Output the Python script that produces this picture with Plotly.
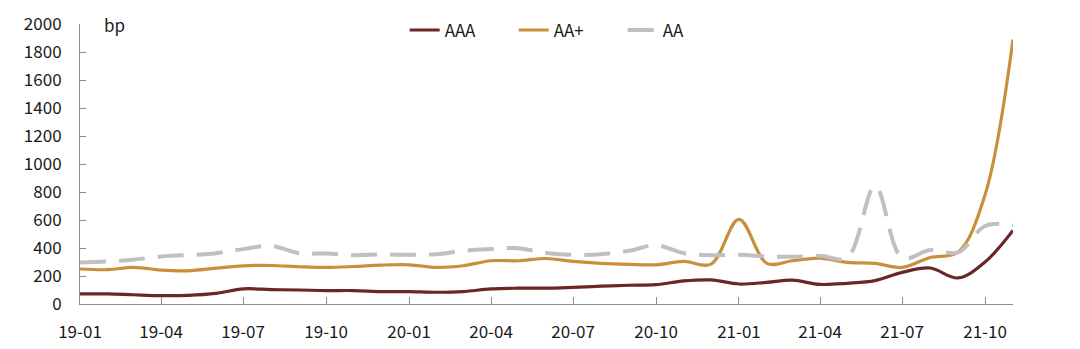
import plotly.graph_objects as go

months = [
    "2019-01-01", "2019-02-01", "2019-03-01", "2019-04-01", "2019-05-01", "2019-06-01",
    "2019-07-01", "2019-08-01", "2019-09-01", "2019-10-01", "2019-11-01", "2019-12-01",
    "2020-01-01", "2020-02-01", "2020-03-01", "2020-04-01", "2020-05-01", "2020-06-01",
    "2020-07-01", "2020-08-01", "2020-09-01", "2020-10-01", "2020-11-01", "2020-12-01",
    "2021-01-01", "2021-02-01", "2021-03-01", "2021-04-01", "2021-05-01", "2021-06-01",
    "2021-07-01", "2021-08-01", "2021-09-01", "2021-10-01", "2021-11-01",
]

aaa = [72, 72, 66, 60, 62, 76, 108, 103, 100, 96, 96, 89,
       88, 84, 89, 108, 113, 113, 119, 127, 134, 138, 165, 172,
       143, 155, 170, 140, 148, 167, 226, 257, 186, 300, 525]

aa_plus = [250, 245, 262, 242, 237, 256, 273, 275, 266, 261, 268, 278,
           280, 261, 273, 309, 309, 325, 304, 290, 283, 280, 304, 285,
           605, 290, 309, 328, 297, 290, 261, 332, 370, 780, 1890]

aa = [297, 305, 316, 340, 349, 363, 392, 415, 363, 361, 349, 354,
      351, 356, 380, 392, 399, 365, 351, 356, 380, 420, 363, 349,
      351, 340, 337, 344, 330, 842, 330, 385, 368, 557, 565]

tick_dates = ["2019-01-01", "2019-04-01", "2019-07-01", "2019-10-01",
              "2020-01-01", "2020-04-01", "2020-07-01", "2020-10-01",
              "2021-01-01", "2021-04-01", "2021-07-01", "2021-10-01"]
y_ticks = [0, 200, 400, 600, 800, 1000, 1200, 1400, 1600, 1800, 2000]

FONT = "Noto Sans CJK SC"
TXT = "#1a1a1a"
AXIS = "#8c8c8c"

fig = go.Figure()
fig.add_trace(go.Scatter(x=months, y=aaa, name="AAA", mode="lines",
                         line=dict(color="#6b2727", width=3.2, shape="spline", smoothing=1)))
fig.add_trace(go.Scatter(x=months, y=aa_plus, name="AA+", mode="lines",
                         line=dict(color="#c98f3a", width=3.2, shape="spline", smoothing=1)))
fig.add_trace(go.Scatter(x=months, y=aa, name="AA", mode="lines",
                         line=dict(color="#c0c0c0", width=4, shape="spline", smoothing=1,
                                   dash="26px,13px")))

fig.update_layout(
    width=1080, height=349,
    margin=dict(l=80, r=67, t=22, b=45),
    paper_bgcolor="white", plot_bgcolor="white",
    font=dict(family=FONT, size=17, color=TXT),
    showlegend=True,
    legend=dict(orientation="h", x=0.348, xanchor="left", y=0.977, yanchor="middle",
                font=dict(family=FONT, size=17, color=TXT), bgcolor="rgba(0,0,0,0)",
                itemwidth=30, entrywidth=64, entrywidthmode="pixels"),
    xaxis=dict(
        type="date", range=["2019-01-01", "2021-11-01"],
        tickvals=tick_dates, tickformat="%y-%m",
        showgrid=False, zeroline=False, automargin=False,
        showline=True, linecolor=AXIS, linewidth=1,
        ticks="inside", ticklen=7, tickcolor=AXIS, tickwidth=1,
        ticklabelstandoff=13,
        tickfont=dict(family=FONT, size=17, color=TXT),
    ),
    yaxis=dict(
        range=[0, 2000], tickvals=y_ticks,
        showgrid=False, zeroline=False, automargin=False,
        showline=True, linecolor=AXIS, linewidth=1,
        ticks="inside", ticklen=6, tickcolor=AXIS, tickwidth=1,
        ticklabelstandoff=14,
        tickfont=dict(family=FONT, size=17, color=TXT),
    ),
    annotations=[dict(text="bp", xref="paper", yref="paper", x=0.024, y=1.0,
                      xanchor="left", yanchor="middle", showarrow=False,
                      font=dict(family=FONT, size=17, color=TXT))],
)

fig.write_html("out.html")
